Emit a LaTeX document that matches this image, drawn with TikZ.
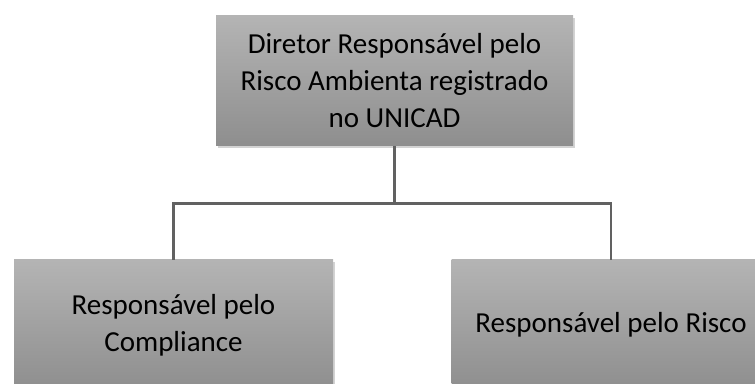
\documentclass[tikz,border=0pt]{standalone}
\usepackage{fontspec}
\setmainfont{Carlito}
\usetikzlibrary{positioning,shadows}

\definecolor{boxtop}{HTML}{B4B4B4}
\definecolor{boxbottom}{HTML}{8E8E8E}
\definecolor{linkgray}{HTML}{616161}

\begin{document}
\begin{tikzpicture}[x=1pt,y=1pt,
    orgbox/.style={rectangle,minimum width=357pt,minimum height=130pt,
      top color=boxtop,bottom color=boxbottom,
      drop shadow={opacity=0.35,shadow xshift=2pt,shadow yshift=-2pt},
      align=center,font=\fontsize{29}{37}\selectfont,text=black},
    link/.style={draw=linkgray,line width=2.8pt}]
  \useasboundingbox (0,0) rectangle (755,383);
  \clip (0,0) rectangle (755,383);

  \node[orgbox]                         (Director)   at (394.5,302) {Diretor Responsável pelo\\Risco Ambienta registrado\\no UNICAD};
  \node[orgbox,minimum width=319pt]     (Compliance) at (173.5,58)  {Responsável pelo\\Compliance};
  \node[orgbox,minimum width=319pt]     (Risk)       at (611,58)    {Responsável pelo Risco};

  \coordinate (bus) at ([yshift=-57pt]Director.south);

  \path[link]
     (Director.south) -- (bus)
     (Compliance.north) |- (bus) -| (Risk.north);
\end{tikzpicture}
\end{document}
